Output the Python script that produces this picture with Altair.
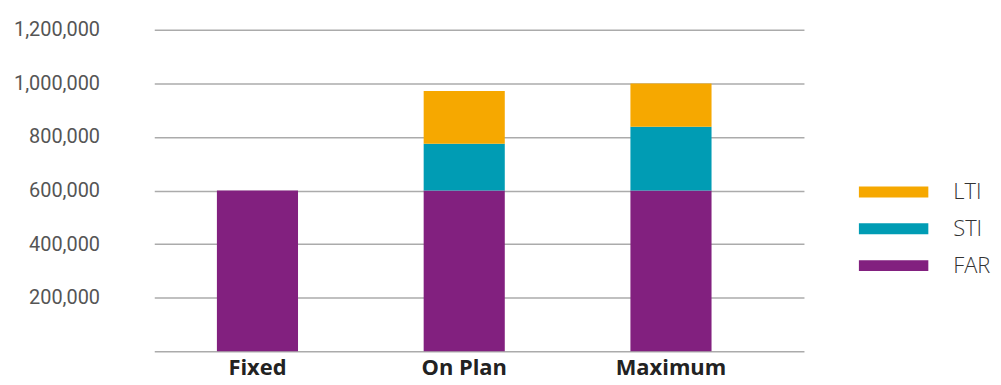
import altair as alt
import pandas as pd

scenarios = ["Fixed", "On Plan", "Maximum"]
components = ["FAR", "STI", "LTI"]
far_values = [600000, 600000, 600000]
sti_values = [0, 175000, 238000]
lti_values = [0, 197000, 162000]
legend_order = ["LTI", "STI", "FAR"]
colors = ["#F6A800", "#009CB4", "#82207F"]
y_ticks = [0, 200000, 400000, 600000, 800000, 1000000, 1200000]

rows = []
for i, s in enumerate(scenarios):
    for k, (c, vals) in enumerate(zip(components, [far_values, sti_values, lti_values])):
        rows.append({"scenario": s, "component": c, "value": vals[i], "ord": k})
df = pd.DataFrame(rows)

chart = alt.Chart(df).mark_bar().encode(
    x=alt.X("scenario:N", sort=scenarios, title=None,
            scale=alt.Scale(paddingInner=0.6077, paddingOuter=0.375, align=0.404),
            axis=alt.Axis(labelAngle=0, domain=False, ticks=False,
                          labelFont="Open Sans", labelFontWeight="bold",
                          labelFontSize=22, labelColor="#222222", labelPadding=6)),
    y=alt.Y("value:Q", stack="zero", title=None,
            scale=alt.Scale(domain=[0, 1200000], nice=False),
            axis=alt.Axis(values=y_ticks, domain=False, ticks=False,
                          labelExpr="datum.value == 0 ? '' : format(datum.value, ',d')",
                          labelFont="Roboto",
                          labelFontSize=20, labelColor="#555555", labelPadding=55,
                          gridColor="#ababab", gridWidth=1.5)),
    color=alt.Color("component:N",
                    scale=alt.Scale(domain=legend_order, range=colors),
                    legend=alt.Legend(title=None, orient="none", legendX=708, legendY=152,
                                      symbolType="M-1,-0.157L1,-0.157L1,0.157L-1,0.157Z",
                                      symbolSize=4900, symbolStrokeWidth=0,
                                      labelFont="Open Sans", labelFontWeight=300,
                                      labelFontSize=22, labelColor="#333333",
                                      labelOffset=25, rowPadding=15, clipHeight=22,
                                      padding=0)),
    order=alt.Order("ord:Q", sort="ascending"),
).properties(
    width=653, height=323,
    autosize=alt.AutoSizeParams(type="none"),
    padding={"left": 147, "top": 21, "right": 190, "bottom": 25},
).configure_view(stroke=None)

chart.save("out.html", embed_options={"renderer": "svg", "actions": False})
